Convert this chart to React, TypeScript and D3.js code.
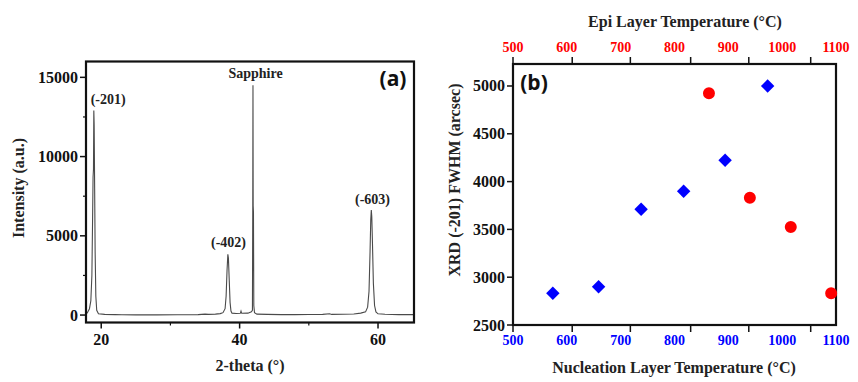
import React from "react";
import * as d3 from "d3";

// ---------- Panel (a): XRD pattern ----------
const xrdTheta = [
  17.8, 18.0, 18.3, 18.5, 18.65, 18.75, 18.82, 18.88, 18.93, 18.98, 19.05, 19.12, 19.22, 19.35, 19.6,
  20.5, 22, 23, 25, 28, 31, 34, 35, 35.5, 36.5, 37.2, 37.6, 37.9, 38.05, 38.18, 38.3, 38.38, 38.5,
  38.62, 38.75, 38.9, 39.5, 40.1, 40.2, 40.3, 41.2, 41.7, 41.85, 41.9, 41.93, 41.96, 42.0, 42.05,
  42.15, 42.5, 44, 46, 48, 50, 52, 53, 53.3, 55, 56.5, 57.5, 58.2, 58.5, 58.7, 58.85, 58.95, 59.03,
  59.1, 59.2, 59.33, 59.5, 59.7, 60, 61, 63, 65.2,
];
const xrdIntensity = [
  60, 150, 400, 900, 2500, 6000, 8700, 9200, 12900, 12000, 8000, 4000, 1200, 300, 80,
  40, 30, 20, 10, 10, 15, 30, 60, 40, 60, 90, 150, 400, 1200, 2800, 3830, 3600, 2200,
  800, 250, 120, 100, 110, 250, 110, 120, 200, 300, 6900, 14500, 6900, 6500, 600,
  150, 60, 40, 30, 30, 35, 40, 80, 40, 50, 70, 120, 200, 500, 1500, 4000, 6000, 6620,
  6200, 4500, 2000, 600, 200, 80, 50, 30, 30,
];
const aXTicks = [20, 40, 60];
const aXMinor = [30, 50];
const aYTicks = [0, 5000, 10000, 15000];
const aYMinor = [2500, 7500, 12500];
const peakLabels = ["(-201)", "Sapphire", "(-402)", "(-603)"];
const peakLabelTheta = [21.0, 42.3, 38.4, 59.2];
const peakLabelIntensity = [13320, 14940, 4325, 7000];

// ---------- Panel (b): FWHM vs temperature ----------
const nucleationTemp = [574, 659, 738, 817, 894, 973];
const nucleationFwhm = [2832, 2901, 3710, 3899, 4223, 5000];
const epiTemp = [864, 940, 1016, 1091];
const epiFwhm = [4924, 3832, 3525, 2832];
const bXTickLabels = [500, 600, 700, 800, 900, 1000, 1100];
const bXTickMarks = [500, 610, 718, 830, 938, 1053];
const bYTicks = [2500, 3000, 3500, 4000, 4500, 5000];

const SERIF = "'Liberation Serif', 'Times New Roman', serif";
const SANS = "'Open Sans', 'Liberation Sans', sans-serif";

export default function App() {
  // Panel (a) scales
  const ax = d3.scaleLinear().domain([17.8, 65.2]).range([86, 414]);
  const ay = d3.scaleLinear().domain([-470, 16000]).range([322.5, 61.5]);
  const pts: [number, number][] = xrdTheta.map((t, i) => [t, xrdIntensity[i]]);
  const line = d3
    .line<[number, number]>()
    .x((d) => ax(d[0]))
    .y((d) => ay(d[1]));

  // Panel (b) scales
  const bx = d3.scaleLinear().domain([500, 1100]).range([513, 836]);
  const by = d3.scaleLinear().domain([2500, 5230]).range([325, 64]);
  const diamond = d3.symbol().type(d3.symbolDiamond2).size(115)();
  const circle = d3.symbol().type(d3.symbolCircle).size(113)();

  const aL = 86, aR = 414, aT = 61.5, aB = 322.5;
  const bL = 513, bR = 836, bT = 64, bB = 325;

  return (
    <svg
      width={858}
      height={382}
      style={{ position: "absolute", left: 0, top: 0, background: "#fff" }}
      fontFamily={SERIF}
      fontWeight="bold"
    >
      <rect x={0} y={0} width={858} height={382} fill="#fff" />
      {/* ---------------- Panel (a) ---------------- */}
      <path d={line(pts) || ""} fill="none" stroke="#4a4a4a" strokeWidth={1.1} />
      <rect x={aL} y={aT} width={aR - aL} height={aB - aT} fill="none" stroke="#111" strokeWidth={2.2} />
      {aYTicks.map((v) => (
        <g key={"ay" + v}>
          <line x1={aL - 6} x2={aL} y1={ay(v)} y2={ay(v)} stroke="#111" strokeWidth={1.5} />
          <text x={78} y={ay(v) + 5.5} textAnchor="end" fontSize={16} fill="#111">
            {v}
          </text>
        </g>
      ))}
      {aYMinor.map((v) => (
        <line key={"aym" + v} x1={aL - 3} x2={aL} y1={ay(v)} y2={ay(v)} stroke="#111" strokeWidth={1.2} />
      ))}
      {aXTicks.map((v) => (
        <g key={"ax" + v}>
          <line x1={ax(v)} x2={ax(v)} y1={aB} y2={aB + 6} stroke="#111" strokeWidth={1.5} />
          <text x={ax(v)} y={345} textAnchor="middle" fontSize={16} fill="#111">
            {v}
          </text>
        </g>
      ))}
      {aXMinor.map((v) => (
        <line key={"axm" + v} x1={ax(v)} x2={ax(v)} y1={aB} y2={aB + 3} stroke="#111" strokeWidth={1.2} />
      ))}
      {peakLabels.map((s, i) => (
        <text
          key={s}
          x={ax(peakLabelTheta[i])}
          y={ay(peakLabelIntensity[i])}
          textAnchor="middle"
          fontSize={14}
          fill="#222"
        >
          {s}
        </text>
      ))}
      <text x={250} y={371} textAnchor="middle" fontSize={16} fill="#222">
        2-theta (°)
      </text>
      <text
        transform={`translate(24,188) rotate(-90)`}
        textAnchor="middle"
        fontSize={16}
        fill="#222"
      >
        Intensity (a.u.)
      </text>
      <text x={393} y={86} textAnchor="middle" fontSize={21} fontFamily={SANS} fill="#111">
        (a)
      </text>

      {/* ---------------- Panel (b) ---------------- */}
      <rect x={bL} y={bT} width={bR - bL} height={bB - bT} fill="none" stroke="#111" strokeWidth={2.2} />
      {bXTickMarks.map((v) => (
        <g key={"bm" + v}>
          <line x1={bx(v)} x2={bx(v)} y1={bB} y2={bB + 7} stroke="#111" strokeWidth={1.5} />
          <line x1={bx(v)} x2={bx(v)} y1={bT} y2={bT - 7} stroke="#111" strokeWidth={1.5} />
        </g>
      ))}
      {bXTickLabels.map((v) => (
        <g key={"bl" + v}>
          <text x={bx(v)} y={345} textAnchor="middle" fontSize={14} fill="#0000ff">
            {v}
          </text>
          <text x={bx(v)} y={52} textAnchor="middle" fontSize={14} fill="#ff0000">
            {v}
          </text>
        </g>
      ))}
      {bYTicks.map((v) => (
        <g key={"by" + v}>
          <line x1={bL - 6} x2={bL} y1={by(v)} y2={by(v)} stroke="#111" strokeWidth={1.5} />
          <text x={505} y={by(v) + 5.5} textAnchor="end" fontSize={16} fill="#111">
            {v}
          </text>
        </g>
      ))}
      {nucleationTemp.map((t, i) => (
        <path
          key={"n" + i}
          d={diamond || ""}
          transform={`translate(${bx(t)},${by(nucleationFwhm[i])})`}
          fill="#0000ff"
        />
      ))}
      {epiTemp.map((t, i) => (
        <path
          key={"e" + i}
          d={circle || ""}
          transform={`translate(${bx(t)},${by(epiFwhm[i])})`}
          fill="#ff0000"
        />
      ))}
      <text x={534} y={90} textAnchor="middle" fontSize={21} fontFamily={SANS} fill="#111">
        (b)
      </text>
      <text x={674} y={373} textAnchor="middle" fontSize={16} fill="#222">
        Nucleation Layer Temperature (°C)
      </text>
      <text x={685} y={27} textAnchor="middle" fontSize={16} fill="#222">
        Epi Layer Temperature (°C)
      </text>
      <text
        transform={`translate(460,180) rotate(-90)`}
        textAnchor="middle"
        fontSize={16}
        fill="#222"
      >
        XRD (-201) FWHM (arcsec)
      </text>
    </svg>
  );
}
